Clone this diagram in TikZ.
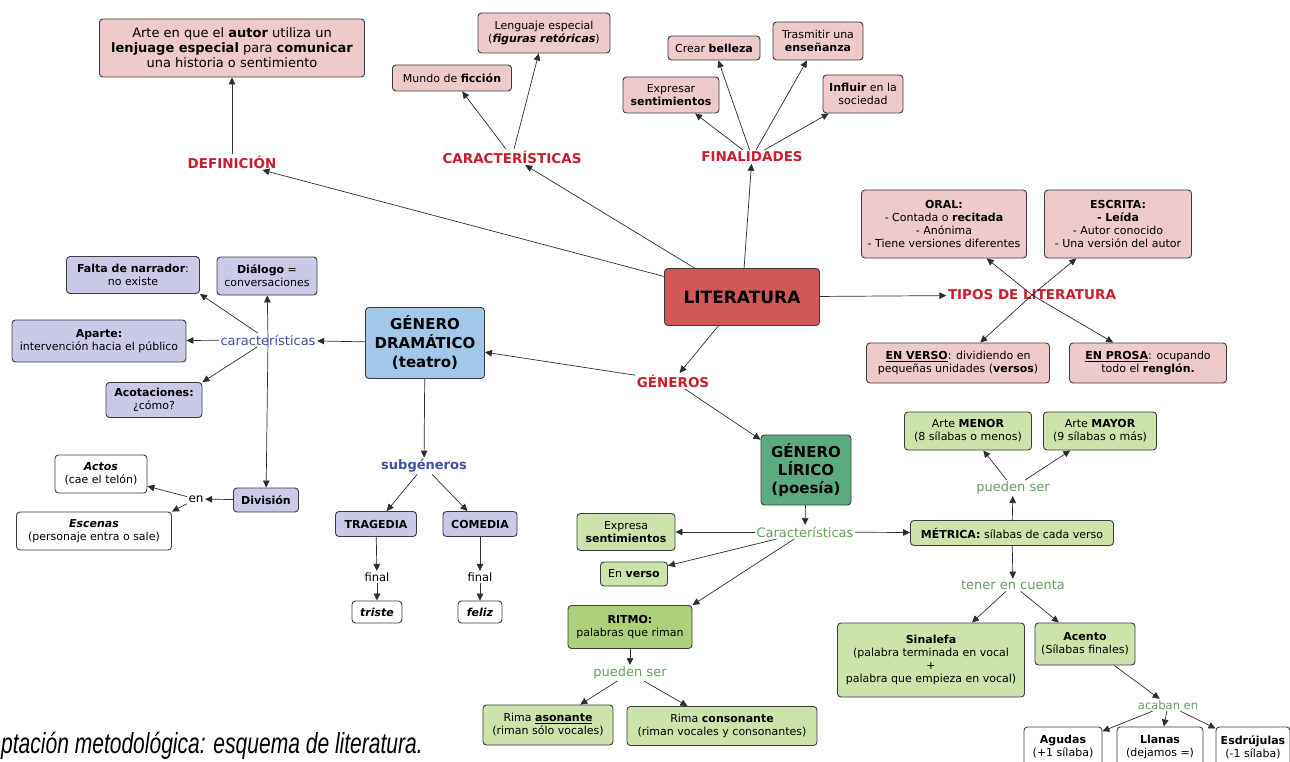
\documentclass[tikz,border=0pt]{standalone}
\usepackage{fontspec}
\usepackage{graphicx}
\setmainfont{DejaVu Sans}
\newfontfamily\capfont{Liberation Sans}
\usetikzlibrary{arrows.meta}
\definecolor{pinkfill}{RGB}{238,202,202}
\definecolor{litfill}{RGB}{208,88,88}
\definecolor{redtext}{RGB}{200,30,45}
\definecolor{dramfill}{RGB}{163,199,232}
\definecolor{lavfill}{RGB}{202,202,232}
\definecolor{lirfill}{RGB}{92,170,128}
\definecolor{greenfill}{RGB}{204,228,172}
\definecolor{ritmofill}{RGB}{172,208,124}
\definecolor{greentext}{RGB}{100,160,95}
\definecolor{bluetext}{RGB}{60,80,165}
\definecolor{boxline}{RGB}{60,60,60}
\definecolor{edgecol}{RGB}{45,45,45}
\newcommand{\fsz}[2]{\fontsize{#1}{#2}\selectfont}
\tikzset{
  bx/.style={draw=boxline, line width=0.9pt, rounded corners=3.5pt, align=center, inner sep=2pt, font=\fsz{11}{13}},
  pinkb/.style={bx, fill=pinkfill},
  lavb/.style={bx, fill=lavfill},
  greenb/.style={bx, fill=greenfill},
  whiteb/.style={bx, fill=white},
  sz/.style 2 args={minimum width=#1, minimum height=#2},
  redlbl/.style={text=redtext, font=\fsz{13.5}{16}\bfseries, inner sep=1.5pt},
  bluelbl/.style={text=bluetext, font=\fsz{13}{15}, inner sep=1.5pt},
  greenlbl/.style={text=greentext, font=\fsz{13}{15}, inner sep=1.5pt},
  plainlbl/.style={text=black, font=\fsz{11.5}{13}, inner sep=1.5pt},
  arr/.style={draw=edgecol, line width=0.7pt, -{Triangle[length=7pt,width=6.5pt]}},
}
\begin{document}
\begin{tikzpicture}[x=1pt,y=-1pt]
\fill[white] (0,0) rectangle (1290,762);
\useasboundingbox (0,0) rectangle (1290,762);

% ---- top pink part
\node[pinkb, sz={265}{58}, font=\fsz{13}{15}] (def) at (232,48) {Arte en que el \textbf{autor} utiliza un\\\textbf{lenjuage especial} para \textbf{comunicar}\\una historia o sentimiento};
\node[pinkb, sz={132}{40}] (leng) at (544,33) {Lenguaje especial\\(\textbf{\textit{figuras retóricas}})};
\node[pinkb, sz={119}{26}] (mundo) at (452,78) {Mundo de \textbf{ficción}};
\node[pinkb, sz={92}{24}] (belleza) at (714,48) {Crear \textbf{belleza}};
\node[pinkb, sz={90}{38}] (trasm) at (818,41) {Trasmitir una\\\textbf{enseñanza}};
\node[pinkb, sz={96}{36}] (expr) at (671,95) {Expresar\\\textbf{sentimientos}};
\node[pinkb, sz={80}{38}] (infl) at (863,94) {\textbf{Influir} en la\\sociedad};
\node[pinkb, sz={165}{68}] (oral) at (944,224) {\textbf{ORAL:}\\- Contada o \textbf{recitada}\\- Anónima\\- Tiene versiones diferentes};
\node[pinkb, sz={147}{68}] (escr) at (1118,224) {\textbf{ESCRITA:}\\\textbf{- Leída}\\- Autor conocido\\- Una versión del autor};
\node[pinkb, sz={183}{40}] (verso) at (958,363) {\textbf{\underline{EN VERSO}}: dividiendo en\\pequeñas unidades (\textbf{versos})};
\node[pinkb, sz={157}{40}] (prosa) at (1148,363) {\textbf{\underline{EN PROSA}}: ocupando\\todo el \textbf{renglón.}};

\node[bx, fill=litfill, sz={155}{57}, font=\fsz{17}{20}\bfseries] (lit) at (742,297) {LITERATURA};

\node[redlbl] (defl) at (232,162) {DEFINICIÓN};
\node[redlbl] (carl) at (512,157) {CARACTERÍSTICAS};
\node[redlbl] (finl) at (752,157) {FINALIDADES};
\node[redlbl] (tipl) at (1032,295) {TIPOS DE LITERATURA};
\node[redlbl] (genl) at (673,381) {GÉNEROS};

% ---- dramatic genre
\node[bx, fill=dramfill, sz={119}{71}, font=\fsz{15}{19}\bfseries] (dram) at (425,343) {GÉNERO\\DRAMÁTICO\\(teatro)};
\node[bluelbl] (carb) at (268,340) {características};
\node[lavb, sz={133}{37}] (falta) at (133,275) {\textbf{Falta de narrador}:\\no existe};
\node[lavb, sz={100}{38}] (dial) at (267,276) {\textbf{Diálogo} =\\conversaciones};
\node[lavb, sz={174}{42}] (apar) at (99,341) {\textbf{Aparte:}\\intervención hacia el público};
\node[lavb, sz={96}{35}] (acot) at (154,400) {\textbf{Acotaciones:}\\¿cómo?};
\node[lavb, sz={65}{24}] (divi) at (266,500) {\textbf{División}};
\node[plainlbl, font=\fsz{12}{14}] (enl) at (196,499) {en};
\node[whiteb, sz={92}{38}] (actos) at (101,474) {\textbf{\textit{Actos}}\\(cae el telón)};
\node[whiteb, sz={155}{38}] (escen) at (94,531) {\textbf{\textit{Escenas}}\\(personaje entra o sale)};
\node[bluelbl, font=\fsz{13}{15}\bfseries] (subg) at (424,466) {subgéneros};
\node[lavb, sz={81}{25}] (trag) at (376,524) {\textbf{TRAGEDIA}};
\node[lavb, sz={74}{25}] (come) at (480,524) {\textbf{COMEDIA}};
\node[plainlbl] (fin1) at (377,577) {final};
\node[plainlbl] (fin2) at (480,577) {final};
\node[whiteb, sz={50}{22}] (triste) at (377,612) {\textbf{\textit{triste}}};
\node[whiteb, sz={44}{22}] (feliz) at (480,612) {\textbf{\textit{feliz}}};

% ---- lyric genre
\node[bx, fill=lirfill, sz={90}{70}, font=\fsz{15}{18}\bfseries] (lir) at (806,470) {GÉNERO\\LÍRICO\\(poesía)};
\node[greenlbl] (carg) at (805,532) {Características};
\node[greenb, sz={98}{37}] (exps) at (626,532) {Expresa\\\textbf{sentimientos}};
\node[greenb, sz={67}{24}] (enve) at (634,574) {En \textbf{verso}};
\node[bx, fill=ritmofill, sz={124}{43}] (ritmo) at (630,627) {\textbf{RITMO:}\\palabras que riman};
\node[greenlbl] (pue1) at (630,673) {pueden ser};
\node[greenb, sz={130}{40}] (ason) at (548,725) {Rima \textbf{\underline{asonante}}\\(riman sólo vocales)};
\node[greenb, sz={190}{39}] (cons) at (722,726) {Rima \textbf{consonante}\\(riman vocales y consonantes)};
\node[greenb, sz={203}{25}] (metr) at (1012,533) {\textbf{MÉTRICA:} sílabas de cada verso};
\node[greenlbl] (pue2) at (1013,488) {pueden ser};
\node[greenb, sz={127}{38}] (menor) at (968,431) {Arte \textbf{MENOR}\\(8 sílabas o menos)};
\node[greenb, sz={113}{38}] (mayor) at (1100,431) {Arte \textbf{MAYOR}\\(9 sílabas o más)};
\node[greenlbl] (tener) at (1013,585) {tener en cuenta};
\node[greenb, sz={187}{74}] (sinal) at (931,660) {\textbf{Sinalefa}\\(palabra terminada en vocal\\+\\palabra que empieza en vocal)};
\node[greenb, sz={100}{42}] (acento) at (1085,644) {\textbf{Acento}\\(Sílabas finales)};
\node[greenlbl, font=\fsz{11.5}{13}] (acab) at (1168,705) {acaban en};
\node[whiteb, sz={78}{40}] (agudas) at (1063,747) {\textbf{Agudas}\\(+1 sílaba)};
\node[whiteb, sz={86}{40}] (llanas) at (1160,747) {\textbf{Llanas}\\(dejamos =)};
\node[whiteb, sz={74}{40}] (esdr) at (1253,747) {\textbf{Esdrújulas}\\(-1 sílaba)};

% caption
\node[anchor=base west, inner sep=0pt, font=\capfont\itshape\fsz{29}{32}] (cap) at (1,753) {\scalebox{0.725}[1]{ptación metodológica: esquema de literatura.}};

% ---- connectors
\draw[arr] (lit) -- (defl);
\draw[arr] (defl) -- (def);
\draw[arr] (lit) -- (carl);
\draw[arr] (carl) -- (mundo);
\draw[arr] (carl) -- (leng);
\draw[arr] (lit) -- (finl);
\draw[arr] (finl) -- (expr);
\draw[arr] (finl) -- (belleza);
\draw[arr] (finl) -- (trasm);
\draw[arr] (finl) -- (infl);
\draw[arr] (lit) -- (tipl);
\draw[arr] (tipl.center) -- (oral);
\draw[arr] (tipl.center) -- (escr);
\draw[arr] (tipl.center) -- (verso);
\draw[arr] (tipl.center) -- (prosa);
\draw[arr] (lit) -- (genl);
\draw[arr] (genl) -- (dram);
\draw[arr] (genl) -- (lir);

\draw[arr] (dram) -- (carb);
\draw[arr] (carb) -- (falta.south east);
\draw[arr] (carb) -- (apar);
\draw[arr] (carb) -- (acot.north east);
\draw[arr] (carb.center) -- (dial);
\draw[arr] (carb.center) -- (divi);
\draw[arr] (divi) -- (enl);
\draw[arr] (enl) -- (actos);
\draw[arr] (enl) -- (escen.north east);
\draw[arr] (dram) -- (subg);
\draw[arr] (subg) -- (trag);
\draw[arr] (subg) -- (come);
\draw[arr] (trag) -- (fin1);
\draw[arr] (fin1) -- (triste);
\draw[arr] (come) -- (fin2);
\draw[arr] (fin2) -- (feliz);

\draw[arr] (lir) -- (carg);
\draw[arr] (carg) -- (exps);
\draw[arr] (carg) -- (enve);
\draw[arr] (carg) -- (ritmo.north east);
\draw[arr] (carg) -- (metr);
\draw[arr] (ritmo) -- (pue1);
\draw[arr] (pue1) -- (ason);
\draw[arr] (pue1) -- (cons);
\draw[arr] (metr) -- (pue2);
\draw[arr] (pue2) -- (menor);
\draw[arr] (pue2) -- (mayor);
\draw[arr] (metr) -- (tener);
\draw[arr] (tener) -- (sinal);
\draw[arr] (tener) -- (acento);
\draw[arr] (acento) -- (acab);
\draw[arr] (acab) -- (agudas);
\draw[arr] (acab) -- (llanas);
\draw[arr] (acab) -- (esdr);
\end{tikzpicture}
\end{document}
